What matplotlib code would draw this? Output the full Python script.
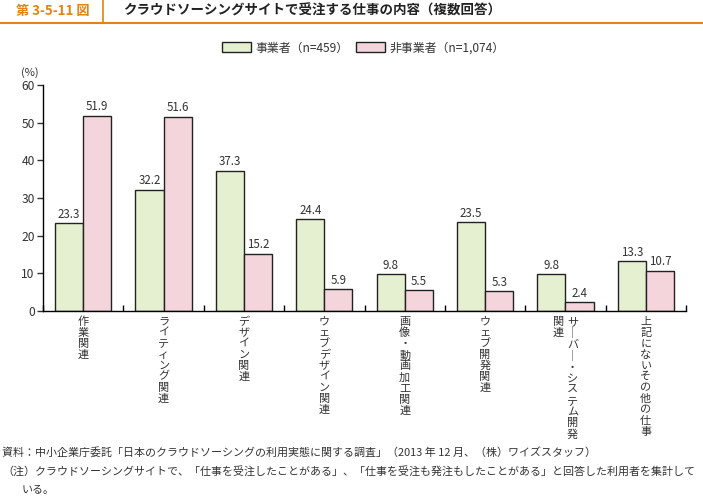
import matplotlib.pyplot as plt
import numpy as np

plt.rcParams['font.family'] = ['Noto Sans CJK JP', 'DejaVu Sans']

# Data
categories = ['作業関連', 'ライティング関連', 'デザイン関連', 'ウェブデザイン関連',
              '画像・動画加工関連', 'ウェブ開発関連', 'サーバー・システム開発関連',
              '上記にないその他の仕事']
jigyosha = [23.3, 32.2, 37.3, 24.4, 9.8, 23.5, 9.8, 13.3]
hijigyosha = [51.9, 51.6, 15.2, 5.9, 5.5, 5.3, 2.4, 10.7]
series_names = ['事業者（n=459）', '非事業者（n=1,074）']

green = '#E5F0D1'
pink = '#F5D5DC'
orange = '#E8820E'
textc = '#333333'

W, H = 703, 499
fig = plt.figure(figsize=(W / 100, H / 100), dpi=100)

# Header
fig.add_artist(plt.Line2D([0, 1], [1 - 22.5 / H, 1 - 22.5 / H], color=orange, lw=1.5))
fig.add_artist(plt.Line2D([103 / W, 103 / W], [1 - 22.5 / H, 1], color=orange, lw=1.2))
fig.text(16 / W, 1 - 11 / H, '第 3-5-11 図', color=orange, fontsize=9.5,
         fontweight='bold', va='center', ha='left')
fig.text(123 / W, 1 - 11 / H, 'クラウドソーシングサイトで受注する仕事の内容（複数回答）',
         color='#222222', fontsize=9.7, fontweight='bold', va='center', ha='left')

# Axes
ax = fig.add_axes([43 / W, (H - 311) / H, 643 / W, (311 - 85) / H])
x = np.arange(len(categories))
w = 0.35
b1 = ax.bar(x - w / 2, jigyosha, w, color=green, edgecolor='#222222', lw=1.0, label=series_names[0])
b2 = ax.bar(x + w / 2, hijigyosha, w, color=pink, edgecolor='#222222', lw=1.0, label=series_names[1])

for bars, vals in ((b1, jigyosha), (b2, hijigyosha)):
    for r, v in zip(bars, vals):
        ax.text(r.get_x() + r.get_width() / 2, v + 0.6, f'{v:.1f}', ha='center', va='bottom',
                fontsize=8.3, color=textc)

ax.set_xlim(-0.5, len(categories) - 0.5)
ax.set_ylim(0, 60)
ax.set_yticks(range(0, 61, 10))
ax.tick_params(axis='y', direction='out', length=4, width=1, labelsize=8.7, colors=textc, pad=2)
ax.set_xticks(np.arange(-0.5, len(categories), 1))
ax.set_xticklabels([])
ax.tick_params(axis='x', direction='in', length=4, width=1)
for s in ('top', 'right'):
    ax.spines[s].set_visible(False)
for s in ('left', 'bottom'):
    ax.spines[s].set_linewidth(1.0)

ax.text(-0.02, 1.055, '(%)', transform=ax.transAxes, ha='center', va='center', fontsize=8, color=textc)


def vert(s):
    return '\n'.join(s.replace('ー', '｜'))


trans = ax.get_xaxis_transform()
ls = 1.12
for i, c in enumerate(categories):
    if c == 'サーバー・システム開発関連':
        ax.text(i + 0.09, -0.025, vert('サーバー・システム開発'), transform=trans, ha='center',
                va='top', fontsize=8, linespacing=ls, color=textc)
        ax.text(i - 0.09, -0.025, vert('関連'), transform=trans, ha='center',
                va='top', fontsize=8, linespacing=ls, color=textc)
    else:
        ax.text(i, -0.025, vert(c), transform=trans, ha='center', va='top',
                fontsize=8, linespacing=ls, color=textc)

# Legend
fig.legend(handles=[b1, b2], loc='center', bbox_to_anchor=(0.517, 1 - 48 / H), ncol=2,
           frameon=False, fontsize=8.6, handlelength=2.4, handleheight=0.9, columnspacing=0.6,
           handletextpad=0.4, labelcolor=textc, borderpad=0.2)

# Notes
fig.text(2 / W, 1 - 452 / H, '資料：中小企業庁委託「日本のクラウドソーシングの利用実態に関する調査」（2013 年 12 月、（株）ワイズスタッフ）',
         fontsize=7.9, va='center', ha='left', color=textc)
fig.text(2 / W, 1 - 471 / H, '（注）クラウドソーシングサイトで、「仕事を受注したことがある」、「仕事を受注も発注もしたことがある」と回答した利用者を集計して',
         fontsize=7.9, va='center', ha='left', color=textc)
fig.text(22 / W, 1 - 490 / H, 'いる。', fontsize=7.9, va='center', ha='left', color=textc)

fig.savefig('out.png', dpi=100)
